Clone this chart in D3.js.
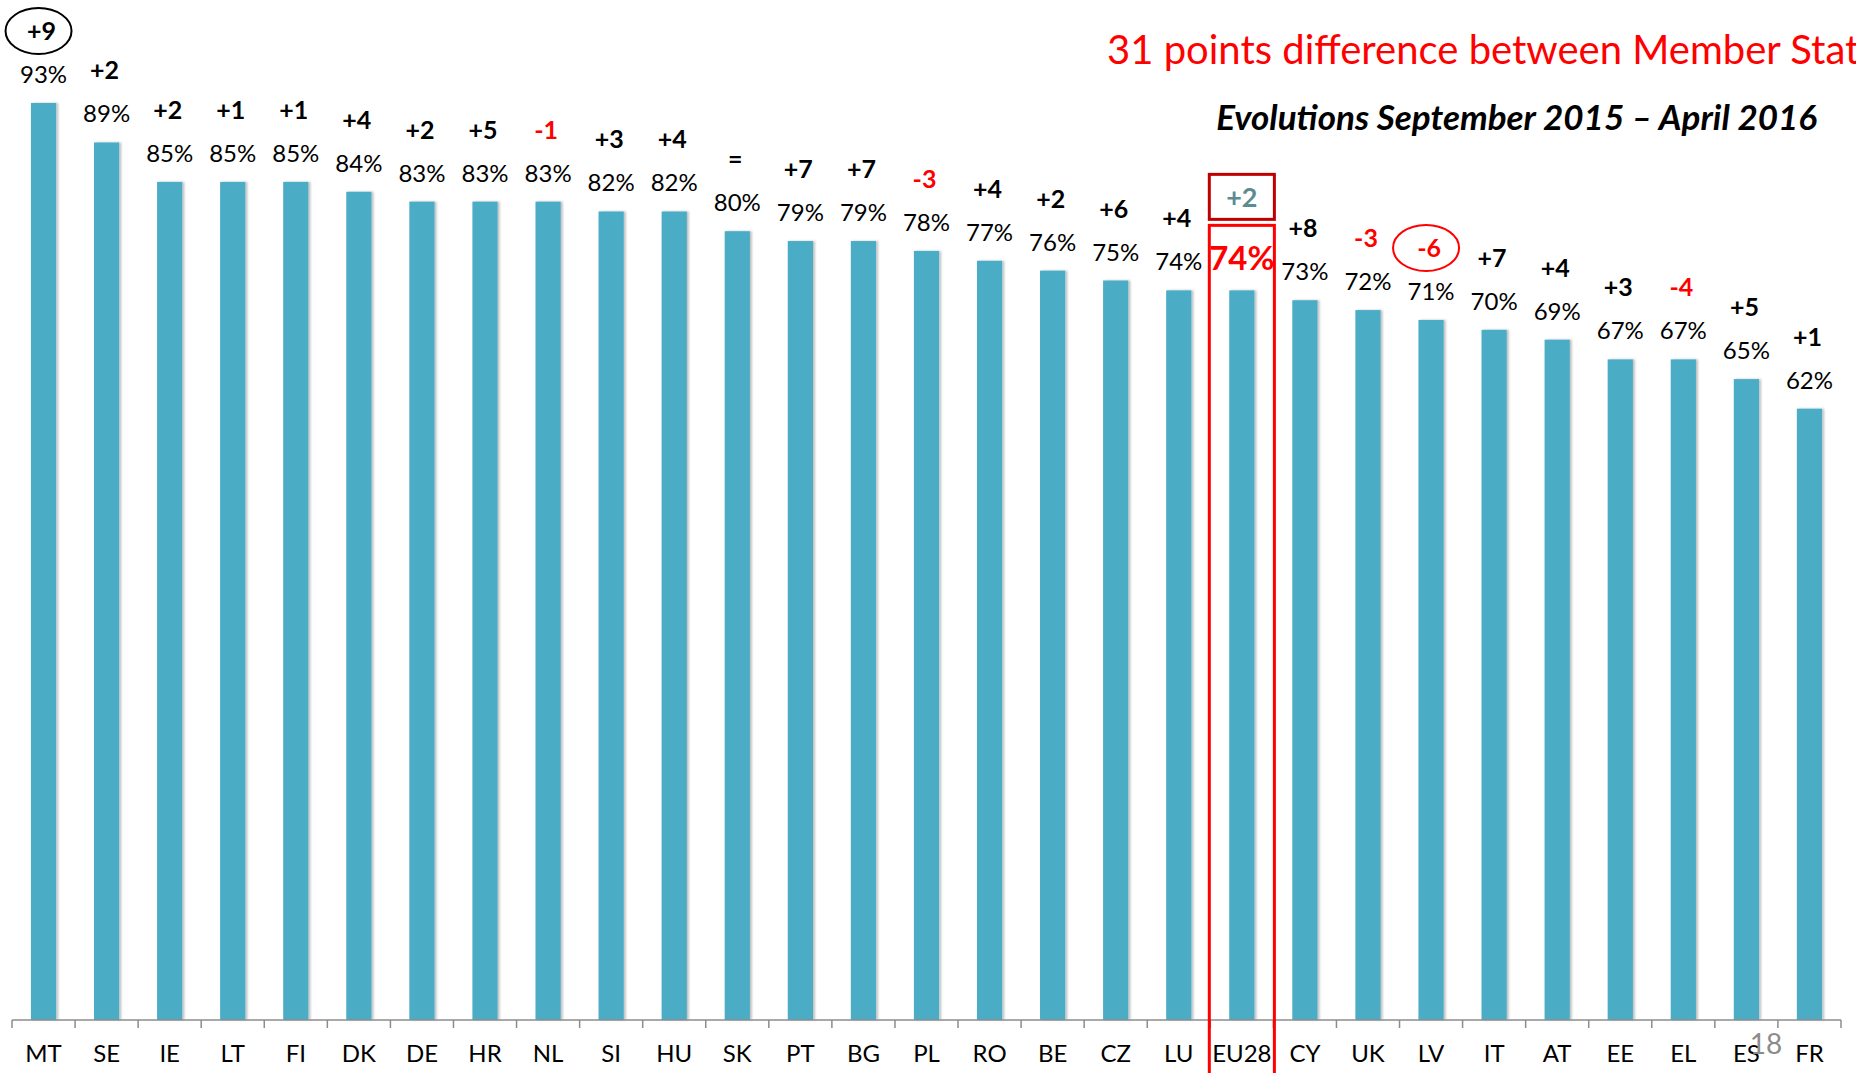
<!DOCTYPE html>
<html>
<head>
<meta charset="utf-8">
<script src="https://cdn.jsdelivr.net/npm/d3@7"></script>
<style>
  html, body { margin: 0; padding: 0; background: #fff; overflow: hidden; }
  text { font-family: Lato, "Open Sans", sans-serif; }
</style>
</head>
<body>
<div id="chart"></div>
<script>
'use strict'

// DATA
var countries = ['MT', 'SE', 'IE', 'LT', 'FI', 'DK', 'DE', 'HR', 'NL', 'SI', 'HU', 'SK', 'PT', 'BG', 'PL',
  'RO', 'BE', 'CZ', 'LU', 'EU28', 'CY', 'UK', 'LV', 'IT', 'AT', 'EE', 'EL', 'ES', 'FR'];
var values = [93, 89, 85, 85, 85, 84, 83, 83, 83, 82, 82, 80, 79, 79, 78, 77, 76, 75, 74, 74, 73, 72, 71, 70, 69, 67, 67, 65, 62];
var changes = ['+9', '+2', '+2', '+1', '+1', '+4', '+2', '+5', '-1', '+3', '+4', '=', '+7', '+7', '-3', '+4', '+2', '+6', '+4',
  '+2', '+8', '-3', '-6', '+7', '+4', '+3', '-4', '+5', '+1'];
var circled = ['MT', 'LV'];
var highlight = 'EU28';
var title = '31 points difference between Member States';
var subtitle = 'Evolutions September 2015 \u2013 April 2016';
var pageNumber = '18';

// DISPLAY SETTINGS
var WIDTH = 1856;
var HEIGHT = 1073;
var BAR_COLOR = '#4bacc6';
var RED = '#ff0000';

var svg = d3.select('#chart').append('svg').attr('width', WIDTH).attr('height', HEIGHT);

var defs = svg.append('defs');
var shadow = defs.append('filter').attr('id', 'shadow').attr('x', '-30%').attr('width', '160%');
shadow.append('feDropShadow').attr('dx', 2).attr('dy', 0).attr('stdDeviation', 1.2)
  .attr('flood-color', '#000').attr('flood-opacity', 0.25);

var x = d3.scaleBand().domain(countries).range([12, 1841]).paddingInner(0.6).paddingOuter(0.3);
var y = d3.scaleLinear().domain([0, 100]).range([1020, 34]);
var step = x.step();

var data = countries.map(function (c, i) {
  return { country: c, value: values[i], change: changes[i] };
});

function cx(d) { return x(d.country) + x.bandwidth() / 2; }

// bars
svg.append('g').selectAll('rect').data(data).enter().append('rect')
  .attr('x', function (d) { return x(d.country); })
  .attr('y', function (d) { return y(d.value); })
  .attr('width', x.bandwidth())
  .attr('height', function (d) { return y(0) - y(d.value); })
  .attr('fill', BAR_COLOR)
  .attr('filter', 'url(#shadow)');

// axis line + boundary ticks
var axis = svg.append('g');
axis.append('line')
  .attr('x1', x.range()[0]).attr('x2', x.range()[1])
  .attr('y1', y(0)).attr('y2', y(0))
  .attr('stroke', '#8c8c8c').attr('stroke-width', 1.5);
var bounds = countries.map(function (c) { return x(c) + x.bandwidth() / 2 - step / 2; });
bounds.push(x.range()[1]);
axis.selectAll('.tick').data(bounds).enter().append('line')
  .attr('x1', function (d) { return d; }).attr('x2', function (d) { return d; })
  .attr('y1', y(0)).attr('y2', y(0) + 8)
  .attr('stroke', '#8c8c8c').attr('stroke-width', 1.5);
axis.selectAll('.lbl').data(data).enter().append('text')
  .attr('x', cx)
  .attr('y', y(0) + 42)
  .attr('text-anchor', 'middle')
  .attr('font-size', '24px')
  .attr('fill', '#000')
  .text(function (d) { return d.country; });

// value labels
svg.append('g').selectAll('text').data(data).enter().append('text')
  .attr('x', cx)
  .attr('y', function (d) { return y(d.value) - 20; })
  .attr('text-anchor', 'middle')
  .attr('font-size', function (d) { return d.country === highlight ? '33px' : '24px'; })
  .attr('font-weight', function (d) { return d.country === highlight ? 'bold' : 'normal'; })
  .attr('fill', function (d) { return d.country === highlight ? RED : '#000'; })
  .text(function (d) { return d.value + '%'; });

// change labels
var others = data.filter(function (d) { return d.country !== highlight; });
svg.append('g').selectAll('text').data(others).enter().append('text')
  .attr('x', function (d) { return cx(d) - 2; })
  .attr('y', function (d) { return y(d.value) - 63; })
  .attr('text-anchor', 'middle')
  .attr('font-size', '25px')
  .attr('font-weight', 'bold')
  .attr('fill', function (d) { return d.change.charAt(0) === '-' ? RED : '#000'; })
  .text(function (d) { return d.change; });

// circled changes
svg.append('g').selectAll('ellipse').data(data.filter(function (d) { return circled.indexOf(d.country) >= 0; }))
  .enter().append('ellipse')
  .attr('cx', function (d) { return cx(d) - 5; })
  .attr('cy', function (d) { return y(d.value) - 72; })
  .attr('rx', 33).attr('ry', 23)
  .attr('fill', 'none')
  .attr('stroke', function (d) { return d.change.charAt(0) === '-' ? RED : '#000'; })
  .attr('stroke-width', 2);

// EU28 highlight boxes
var eu = data.filter(function (d) { return d.country === highlight; })[0];
var boxX = cx(eu) - step / 2 - 1;
svg.append('rect')
  .attr('x', boxX).attr('y', y(eu.value) - 65)
  .attr('width', step + 2).attr('height', HEIGHT)
  .attr('fill', 'none').attr('stroke', RED).attr('stroke-width', 3);
svg.append('rect')
  .attr('x', boxX).attr('y', y(eu.value) - 116)
  .attr('width', step + 2).attr('height', 45)
  .attr('fill', 'none').attr('stroke', '#c00000').attr('stroke-width', 3);
svg.append('text')
  .attr('x', cx(eu)).attr('y', y(eu.value) - 83)
  .attr('text-anchor', 'middle')
  .attr('font-size', '27px').attr('font-weight', 'bold')
  .attr('fill', '#5b8c92')
  .text(eu.change);

// titles
svg.append('text')
  .attr('x', 1107).attr('y', 64)
  .attr('font-size', '40px')
  .attr('fill', RED)
  .text(title);
svg.append('text')
  .attr('x', 1817).attr('y', 130)
  .attr('text-anchor', 'end')
  .attr('font-size', '35px').attr('font-weight', 'bold').attr('font-style', 'italic')
  .attr('fill', '#000')
  .text(subtitle);

svg.append('text')
  .attr('x', 1766).attr('y', 1054)
  .attr('text-anchor', 'middle')
  .attr('font-size', '28px')
  .attr('fill', '#8c8c8c')
  .text(pageNumber);
</script>
</body>
</html>
